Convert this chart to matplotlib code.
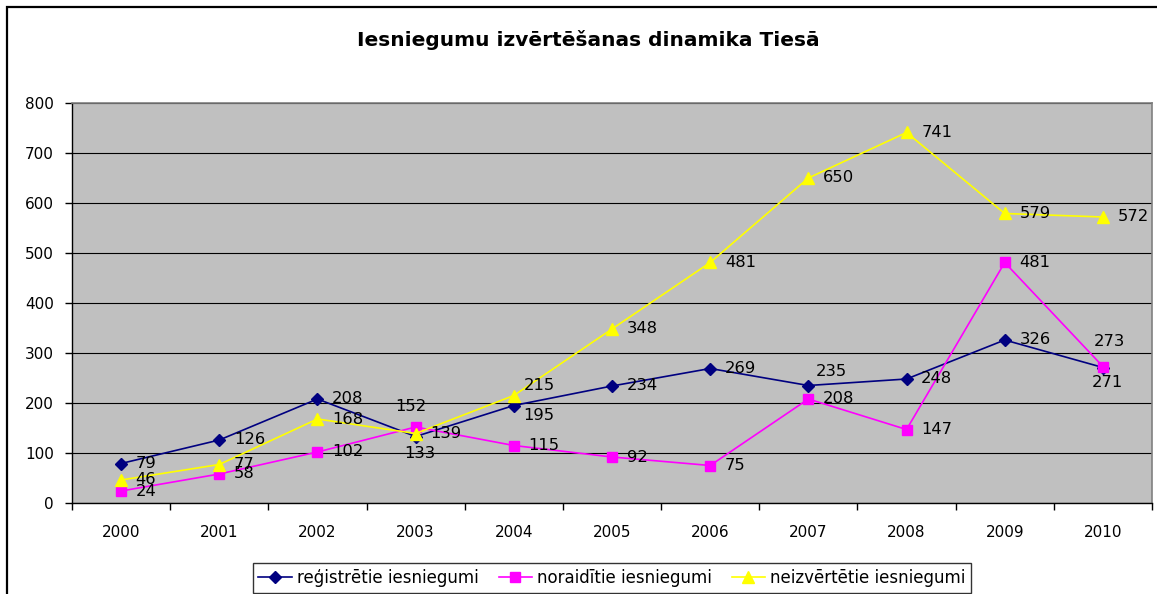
import matplotlib
matplotlib.use("Agg")
import matplotlib.pyplot as plt
from matplotlib.patches import Rectangle

years = ["2000", "2001", "2002", "2003", "2004", "2005", "2006", "2007", "2008", "2009", "2010"]
registered = [79, 126, 208, 133, 195, 234, 269, 235, 248, 326, 271]
rejected = [24, 58, 102, 152, 115, 92, 75, 208, 147, 481, 273]
unevaluated = [46, 77, 168, 139, 215, 348, 481, 650, 741, 579, 572]
series_names = ["reģistrētie iesniegumi", "noraidītie iesniegumi", "neizvērtētie iesniegumi"]
title = "Iesniegumu izvērtēšanas dinamika Tiesā"
yticks = [0, 100, 200, 300, 400, 500, 600, 700, 800]

plt.rcParams['font.family'] = ['DejaVu Sans']

W, H = 1157, 594
fig = plt.figure(figsize=(W / 100, H / 100), dpi=100)
fig.patch.set_facecolor("white")

# outer chart frame
fig.add_artist(Rectangle((7 / W, -0.2), 1.5, 1.2 - 7 / H, transform=fig.transFigure,
                         fill=False, edgecolor="black", linewidth=1.6))

ax = fig.add_axes([72 / W, 1 - 503 / H, 1080 / W, 400 / H])
ax.set_facecolor("#C0C0C0")

x = list(range(len(years)))
styles = [
    (registered, "#000080", "D", 6),
    (rejected, "#FF00FF", "s", 6.5),
    (unevaluated, "#FFFF00", "^", 8),
]
for (vals, col, mk, ms), name in zip(styles, series_names):
    ax.plot(x, vals, color=col, marker=mk, markersize=ms, linewidth=1.2,
            markeredgecolor=col, label=name, zorder=3)

# data labels (offsets in points; default: to the right of the point)
default_off = (10.5, 0)
special = {
    (1, 3): (-3.5, 15, "center"),
    (0, 3): (3, -12, "center"),
    (0, 7): (16.5, 10, "center"),
    (1, 10): (5, 18, "center"),
    (0, 10): (3, -11, "center"),
    (2, 4): (7, 7, "left"),
    (0, 4): (6.5, -7, "left"),
}
for si, (vals, col, mk, ms) in enumerate(styles):
    for i, v in enumerate(vals):
        dx, dy, ha = special.get((si, i), (default_off[0], default_off[1], "left"))
        ax.annotate(str(v), (i, v), xytext=(dx, dy), textcoords="offset points",
                    ha=ha, va="center", fontsize=11.8, color="black", zorder=4)

ax.set_xlim(-0.5, len(years) - 0.5)
ax.set_ylim(0, 800)
ax.set_yticks(yticks)
ax.set_yticklabels([str(t) for t in yticks], fontsize=11)
ax.set_xticks(x)
ax.set_xticklabels(years, fontsize=11)
ax.set_xticks([i - 0.5 for i in range(len(years) + 1)], minor=True)
ax.tick_params(axis="x", which="major", length=0, pad=16)
ax.tick_params(axis="x", which="minor", length=5, width=1, color="black", direction="out")
ax.tick_params(axis="y", length=5, width=1, color="black", direction="out", pad=8)

ax.grid(axis="y", color="black", linewidth=0.8, zorder=1)
ax.set_axisbelow(True)
for s in ["top", "right"]:
    ax.spines[s].set_color("#808080")
    ax.spines[s].set_linewidth(1.2)
for s in ["left", "bottom"]:
    ax.spines[s].set_color("black")
    ax.spines[s].set_linewidth(1.0)

fig.text(588 / W, 1 - 40 / H, title, ha="center", va="center",
         fontsize=14.5, fontweight="bold")

leg = fig.legend(loc="upper center", bbox_to_anchor=(612 / W, 1 - 563 / H), ncol=3,
                 fontsize=12, frameon=True, fancybox=False, edgecolor="black",
                 handlelength=2.0, columnspacing=1.2, handletextpad=0.3,
                 borderpad=0.35, borderaxespad=0)
leg.get_frame().set_linewidth(1.0)

fig.savefig("out.png", dpi=100)
